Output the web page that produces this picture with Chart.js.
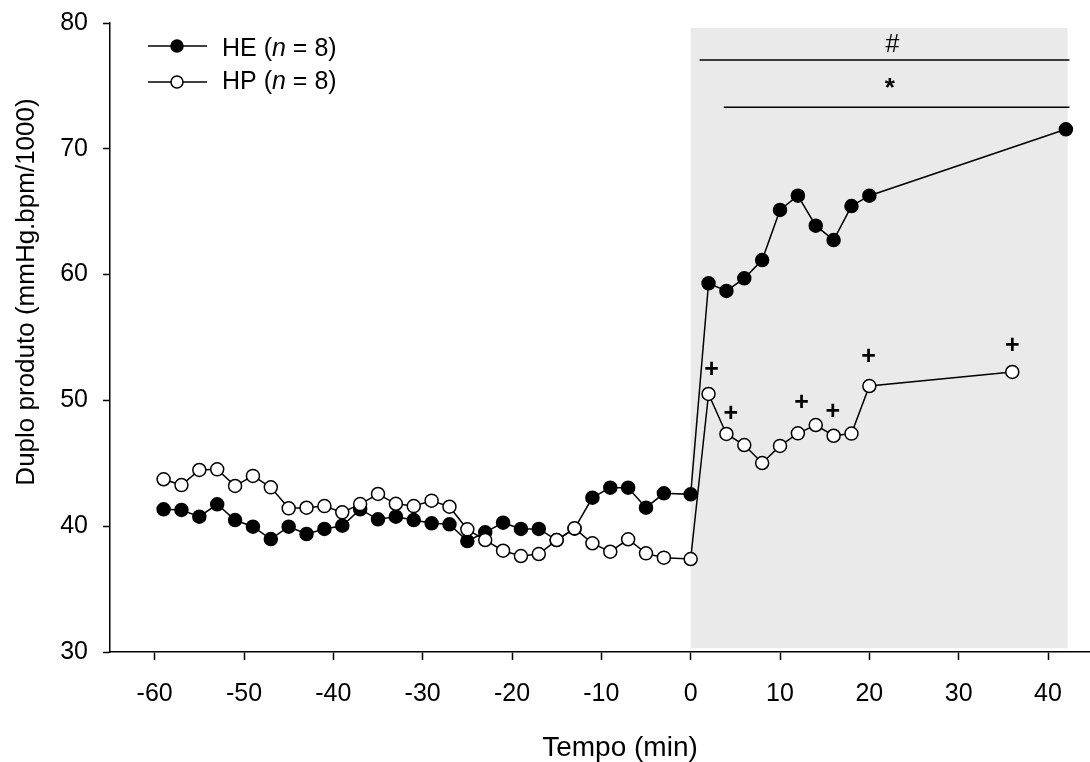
<!DOCTYPE html>
<html>
<head>
<meta charset="utf-8">
<script src="https://cdn.jsdelivr.net/npm/chart.js@4.4.1/dist/chart.umd.min.js"></script>
<style>
  html, body { margin: 0; padding: 0; background: #fff; overflow: hidden; }
  canvas { display: block; }
</style>
</head>
<body>
<canvas id="chart" width="1090" height="762"></canvas>
<script>
// Tempo (min) and duplo produto for each group
const timesHE = [-59, -57, -55, -53, -51, -49, -47, -45, -43, -41,
                 -39, -37, -35, -33, -31, -29, -27, -25, -23, -21,
                 -19, -17, -15, -13, -11, -9, -7, -5, -3, 0,
                 2, 4, 6, 8, 10, 12, 14, 16, 18, 20, 42];
const valuesHE = [41.34, 41.29, 40.76, 41.74, 40.49, 39.96, 38.98, 39.96, 39.38, 39.78,
                  40.04, 41.34, 40.55, 40.76, 40.49, 40.23, 40.15, 38.82, 39.51, 40.28,
                  39.78, 39.78, 38.9, 39.8, 42.27, 43.06, 43.06, 41.47, 42.61, 42.53,
                  59.31, 58.7, 59.7, 61.16, 65.14, 66.27, 63.89, 62.75, 65.45, 66.27, 71.55];

const timesHP = [-59, -57, -55, -53, -51, -49, -47, -45, -43, -41,
                 -39, -37, -35, -33, -31, -29, -27, -25, -23, -21,
                 -19, -17, -15, -13, -11, -9, -7, -5, -3, 0,
                 2, 4, 6, 8, 10, 12, 14, 16, 18, 20, 36];
const valuesHP = [43.73, 43.27, 44.47, 44.52, 43.2, 44.0, 43.09, 41.42, 41.47, 41.6,
                  41.1, 41.76, 42.56, 41.78, 41.6, 42.03, 41.55, 39.75, 38.9, 38.05,
                  37.63, 37.79, 38.9, 39.83, 38.64, 37.97, 38.96, 37.84, 37.5, 37.39,
                  50.51, 47.33, 46.45, 45.02, 46.38, 47.38, 48.04, 47.19, 47.36, 51.14, 52.26];

const xTicks = [-60, -50, -40, -30, -20, -10, 0, 10, 20, 30, 40];
const yTicks = [30, 40, 50, 60, 70, 80];

// "+" marks over the HP points after exercise
const plusX = [2.35, 4.5, 12.4, 15.9, 19.9, 36];
const plusY = [52.6, 49.1, 49.95, 49.25, 53.6, 54.5];

// significance bars above the recovery period
const sigLabels = ['#', '*'];
const sigStart = [1.0, 3.7];
const sigEnd = [42.4, 42.4];
const sigLevel = [77.05, 73.3];
const sigLabelX = [22.6, 22.3];
const sigLabelY = [78.4, 75.2];

// grey band = post-exercise period
const shadeX = [0, 42.2];
const shadeY = [30.3, 79.6];

const FONT = '"Liberation Sans", Arial, sans-serif';

function drawCentered(ctx, text, x, y) {
  const m = ctx.measureText(text);
  ctx.textAlign = 'center';
  ctx.textBaseline = 'alphabetic';
  ctx.fillText(text, x, y + (m.actualBoundingBoxAscent - m.actualBoundingBoxDescent) / 2);
}

function marker(ctx, x, y, filled) {
  ctx.beginPath();
  ctx.arc(x, y, 6, 0, Math.PI * 2);
  ctx.fillStyle = filled ? '#000' : '#fff';
  ctx.fill();
  ctx.lineWidth = 1.5;
  ctx.strokeStyle = '#000';
  ctx.stroke();
}

const extras = {
  id: 'extras',
  // let the x axis run to the right edge of the canvas
  afterLayout(chart) {
    const xs = chart.scales.x;
    const area = chart.chartArea;
    xs.right = chart.width;
    xs.width = xs.right - xs.left;
    area.right = chart.width;
    area.width = area.right - area.left;
    xs.configure();
  },
  beforeDatasetsDraw(chart) {
    const ctx = chart.ctx;
    const xs = chart.scales.x, ys = chart.scales.y;
    ctx.save();
    ctx.fillStyle = '#eaeaea';
    const x0 = xs.getPixelForValue(shadeX[0]), x1 = xs.getPixelForValue(shadeX[1]);
    const y0 = ys.getPixelForValue(shadeY[1]), y1 = ys.getPixelForValue(shadeY[0]);
    ctx.fillRect(x0, y0, x1 - x0, y1 - y0);

    ctx.strokeStyle = '#000';
    ctx.lineWidth = 1.5;
    ctx.fillStyle = '#000';
    sigLabels.forEach((lab, i) => {
      const y = ys.getPixelForValue(sigLevel[i]);
      ctx.beginPath();
      ctx.moveTo(xs.getPixelForValue(sigStart[i]), y);
      ctx.lineTo(xs.getPixelForValue(sigEnd[i]), y);
      ctx.stroke();
      ctx.font = (lab === '*' ? 'bold 26px ' : '25px ') + FONT;
      drawCentered(ctx, lab, xs.getPixelForValue(sigLabelX[i]), ys.getPixelForValue(sigLabelY[i]));
    });
    ctx.restore();
  },
  afterDatasetsDraw(chart) {
    const ctx = chart.ctx;
    const xs = chart.scales.x, ys = chart.scales.y;
    ctx.save();
    ctx.fillStyle = '#000';
    ctx.font = 'bold 25px ' + FONT;
    plusX.forEach((v, i) => {
      drawCentered(ctx, '+', xs.getPixelForValue(v), ys.getPixelForValue(plusY[i]));
    });

    // legend
    const rows = [['HE', 46, 56, true], ['HP', 82, 89, false]];
    rows.forEach(([name, ly, base, filled]) => {
      ctx.strokeStyle = '#000';
      ctx.lineWidth = 1.5;
      ctx.beginPath();
      ctx.moveTo(148, ly);
      ctx.lineTo(207, ly);
      ctx.stroke();
      marker(ctx, 177, ly, filled);
      ctx.fillStyle = '#000';
      ctx.textAlign = 'left';
      ctx.textBaseline = 'alphabetic';
      let x = 222;
      const parts = [[name + ' (', ''], ['n', 'italic '], [' = 8)', '']];
      parts.forEach(([t, st]) => {
        ctx.font = st + '25px ' + FONT;
        ctx.fillText(t, x, base);
        x += ctx.measureText(t).width;
      });
    });

    // axis titles
    ctx.textAlign = 'center';
    ctx.textBaseline = 'alphabetic';
    ctx.font = '28px ' + FONT;
    ctx.fillText('Tempo (min)', 620, 756);
    ctx.font = '26px ' + FONT;
    ctx.translate(34, 292);
    ctx.rotate(-Math.PI / 2);
    ctx.fillText('Duplo produto (mmHg.bpm/1000)', 0, 0);
    ctx.restore();
  }
};

const axisStyle = {
  grid: { display: true, drawOnChartArea: false, drawTicks: true, tickColor: '#000', tickWidth: 1.5 },
  border: { display: true, color: '#000', width: 1.5 }
};

new Chart(document.getElementById('chart'), {
  type: 'scatter',
  data: {
    datasets: [
      {
        label: 'HE (n = 8)',
        data: timesHE.map((t, i) => ({ x: t, y: valuesHE[i] })),
        showLine: true,
        borderColor: '#000',
        borderWidth: 1.5,
        pointRadius: 6.5,
        pointBackgroundColor: '#000',
        pointBorderColor: '#000',
        pointBorderWidth: 1.5,
        order: 1
      },
      {
        label: 'HP (n = 8)',
        data: timesHP.map((t, i) => ({ x: t, y: valuesHP[i] })),
        showLine: true,
        borderColor: '#000',
        borderWidth: 1.5,
        pointRadius: 6.5,
        pointBackgroundColor: '#fff',
        pointBorderColor: '#000',
        pointBorderWidth: 1.5,
        order: 0
      }
    ]
  },
  options: {
    responsive: false,
    animation: false,
    layout: { padding: { top: 23, right: 0, left: 0, bottom: 0 } },
    plugins: { legend: { display: false }, tooltip: { enabled: false } },
    scales: {
      x: {
        type: 'linear',
        min: -65,
        max: 44.7,
        ...axisStyle,
        grid: { ...axisStyle.grid, tickLength: 8 },
        afterBuildTicks: s => { s.ticks = xTicks.map(v => ({ value: v })); },
        afterFit: s => { s.height = 110; s.paddingLeft = 0; s.paddingRight = 0; },
        ticks: { color: '#000', padding: 19, font: { family: FONT, size: 25 } }
      },
      y: {
        min: 30,
        max: 80,
        ...axisStyle,
        grid: { ...axisStyle.grid, tickLength: 7 },
        afterBuildTicks: s => { s.ticks = yTicks.map(v => ({ value: v })); },
        afterFit: s => { s.width = 110; s.paddingTop = 0; s.paddingBottom = 0; },
        ticks: { color: '#000', padding: 15, font: { family: FONT, size: 25 } }
      }
    }
  },
  plugins: [extras]
});
</script>
</body>
</html>
